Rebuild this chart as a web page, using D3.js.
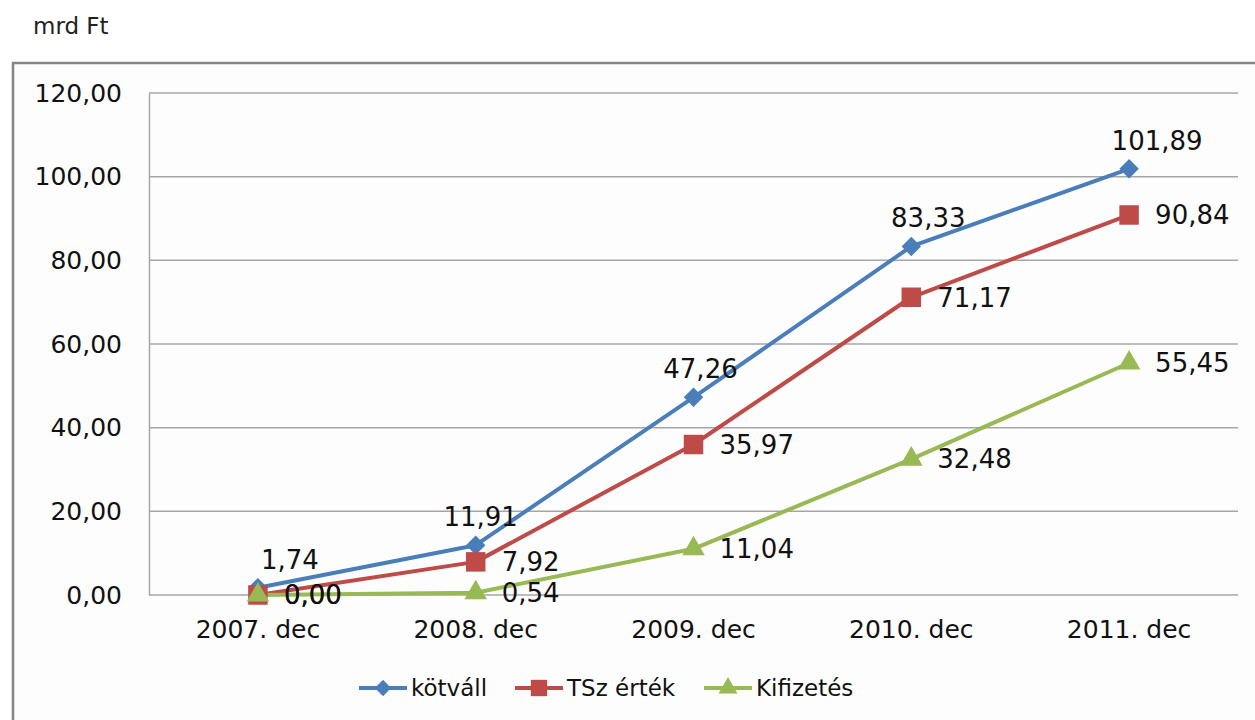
<!DOCTYPE html>
<html>
<head>
<meta charset="utf-8">
<script src="https://cdn.jsdelivr.net/npm/d3@7"></script>
<style>
  body { margin: 0; background: #fff; }
  svg { font-family: "DejaVu Sans", Verdana, sans-serif; }
</style>
</head>
<body>
<div id="chart"></div>
<script>
const FRAME_WIDTH = 1255;
const FRAME_HEIGHT = 720;
const MARGINS = {left: 149, right: 17, top: 93, bottom: 125};

const VIS_WIDTH = FRAME_WIDTH - MARGINS.left - MARGINS.right;
const VIS_HEIGHT = FRAME_HEIGHT - MARGINS.top - MARGINS.bottom;

// data
const categories = ["2007. dec", "2008. dec", "2009. dec", "2010. dec", "2011. dec"];
const kotvall = [1.74, 11.91, 47.26, 83.33, 101.89];
const tszErtek = [0.00, 7.92, 35.97, 71.17, 90.84];
const kifizetes = [0.00, 0.54, 11.04, 32.48, 55.45];
const yTicks = [0, 20, 40, 60, 80, 100, 120];

// kötváll labels were nudged a bit to the right in the original
const aboveLabelDx = [32, 5, 7, 17, 28];

const series = [
  {name: "kötváll", values: kotvall, color: "#4a7ebb", marker: d3.symbolSquare, rotate: 45, size: 190, label: "above"},
  {name: "TSz érték", values: tszErtek, color: "#be4b48", marker: d3.symbolSquare, rotate: 0, size: 380, label: "right"},
  {name: "Kifizetés", values: kifizetes, color: "#98b954", marker: d3.symbolTriangle, rotate: 0, size: 220, label: "right"}
];

const fmt = (v) => v.toFixed(2).replace(".", ",");

const FRAME = d3.select("#chart")
                .append("svg")
                  .attr("width", FRAME_WIDTH)
                  .attr("height", FRAME_HEIGHT);

// outer chart border
FRAME.append("rect")
      .attr("x", 13)
      .attr("y", 63)
      .attr("width", FRAME_WIDTH)
      .attr("height", FRAME_HEIGHT)
      .attr("fill", "#fdfdfd")
      .attr("stroke", "#858585")
      .attr("stroke-width", 2.5);

// unit label
FRAME.append("text")
      .attr("x", 33)
      .attr("y", 34)
      .attr("font-size", "23px")
      .attr("fill", "#222")
      .text("mrd Ft");

const X_SCALE = d3.scaleBand()
                  .domain(categories)
                  .range([0, VIS_WIDTH]);

const Y_SCALE = d3.scaleLinear()
                  .domain([0, 120])
                  .range([VIS_HEIGHT, 0]);

const G = FRAME.append("g")
               .attr("transform", "translate(" + MARGINS.left + "," + MARGINS.top + ")");

// gridlines
G.append("g")
  .selectAll("line")
  .data(yTicks)
  .enter()
  .append("line")
    .attr("x1", 0)
    .attr("x2", VIS_WIDTH)
    .attr("y1", (d) => Y_SCALE(d))
    .attr("y2", (d) => Y_SCALE(d))
    .attr("stroke", "#a6a6a6")
    .attr("stroke-width", 1.5);

// y axis
const yAxis = G.append("g")
  .call(d3.axisLeft(Y_SCALE).tickValues(yTicks).tickSize(0).tickPadding(27).tickFormat(fmt));
yAxis.select(".domain").attr("stroke", "#a6a6a6").attr("stroke-width", 1.5);
yAxis.selectAll("text")
     .attr("font-size", "25px")
     .attr("fill", "#111")
     .attr("font-family", "DejaVu Sans, Verdana, sans-serif");

// x axis
const xAxis = G.append("g")
  .attr("transform", "translate(0," + VIS_HEIGHT + ")")
  .call(d3.axisBottom(X_SCALE).tickSize(0).tickPadding(25));
xAxis.select(".domain").remove();
xAxis.selectAll("text")
     .attr("font-size", "25px")
     .attr("fill", "#111")
     .attr("font-family", "DejaVu Sans, Verdana, sans-serif");

const xPos = (i) => X_SCALE(categories[i]) + X_SCALE.bandwidth() / 2;

const line = d3.line()
               .x((d, i) => xPos(i))
               .y((d) => Y_SCALE(d));

// lines
series.forEach((s) => {
  G.append("path")
    .datum(s.values)
    .attr("d", line)
    .attr("fill", "none")
    .attr("stroke", s.color)
    .attr("stroke-width", 4)
    .attr("stroke-linejoin", "round");
});

// markers
series.forEach((s) => {
  G.append("g")
    .selectAll("path")
    .data(s.values)
    .enter()
    .append("path")
      .attr("d", d3.symbol().type(s.marker).size(s.size))
      .attr("transform", (d, i) => "translate(" + xPos(i) + "," + Y_SCALE(d) + ") rotate(" + s.rotate + ")")
      .attr("fill", s.color);
});

// data labels
series.forEach((s) => {
  G.append("g")
    .selectAll("text")
    .data(s.values)
    .enter()
    .append("text")
      .attr("x", (d, i) => s.label === "above" ? xPos(i) + aboveLabelDx[i] : xPos(i) + 26)
      .attr("y", (d) => s.label === "above" ? Y_SCALE(d) - 19 : Y_SCALE(d))
      .attr("dy", s.label === "above" ? 0 : "0.36em")
      .attr("text-anchor", s.label === "above" ? "middle" : "start")
      .attr("font-size", "26px")
      .attr("fill", "#111")
      .text((d) => fmt(d));
});

// legend
const legendX = [359, 515, 704];
const LEGEND = FRAME.append("g");
series.forEach((s, i) => {
  const lg = LEGEND.append("g")
                   .attr("transform", "translate(" + legendX[i] + ",688)");
  lg.append("line")
    .attr("x1", 0)
    .attr("x2", 48)
    .attr("stroke", s.color)
    .attr("stroke-width", 4);
  lg.append("path")
    .attr("d", d3.symbol().type(s.marker).size(s.size * 0.7))
    .attr("transform", "translate(24,0) rotate(" + s.rotate + ")")
    .attr("fill", s.color);
  lg.append("text")
    .attr("x", 52)
    .attr("dy", "0.36em")
    .attr("font-size", "23px")
    .attr("fill", "#111")
    .text(s.name);
});
</script>
</body>
</html>
